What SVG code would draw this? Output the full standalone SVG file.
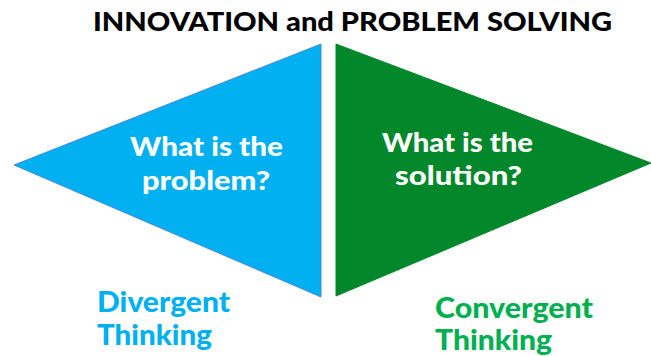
<svg xmlns="http://www.w3.org/2000/svg" width="651" height="356" viewBox="0 0 651 356">
<style>
text{font-family:Lato,"Open Sans","Liberation Sans",sans-serif;font-weight:900}
.t{font-size:26px;fill:#000}
.w{font-size:27px;fill:#fff}
.b{font-size:28px;fill:#00B0F0}
.g{font-size:28px;fill:#00B050}
</style>
<rect width="651" height="356" fill="#fff"/>
<g id="title"><text class="t" x="93" y="31" textLength="519" lengthAdjust="spacingAndGlyphs">INNOVATION and PROBLEM SOLVING</text></g>
<g id="divergent">
<polygon points="14,165 321,44 321,297" fill="#00B0F0" stroke="#4A86D8" stroke-width="1"/>
<text class="w" x="130" y="156" textLength="153" lengthAdjust="spacingAndGlyphs">What is the</text>
<text class="w" x="142" y="190" textLength="128" lengthAdjust="spacingAndGlyphs">problem?</text>
</g>
<g id="convergent">
<polygon points="336,44 651,163 336,296" fill="#02882B" stroke="#02882B" stroke-width="1"/>
<text class="w" x="382" y="152" textLength="151" lengthAdjust="spacingAndGlyphs">What is the</text>
<text class="w" x="395" y="185" textLength="127" lengthAdjust="spacingAndGlyphs">solution?</text>
</g>
<g id="labels">
<text class="b" x="97" y="312" textLength="133" lengthAdjust="spacingAndGlyphs">Divergent</text>
<text class="b" x="97" y="345" textLength="115" lengthAdjust="spacingAndGlyphs">Thinking</text>
<text class="g" x="435" y="318" textLength="158" lengthAdjust="spacingAndGlyphs">Convergent</text>
<text class="g" x="435" y="350" textLength="117" lengthAdjust="spacingAndGlyphs">Thinking</text>
</g>
</svg>
